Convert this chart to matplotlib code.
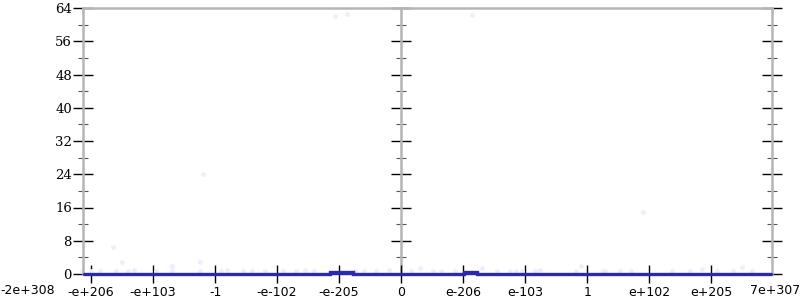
import matplotlib
matplotlib.use("Agg")
import matplotlib.pyplot as plt

# x is measured in "tick steps": one step per label, 0 in the middle
x_min, x_max = -5.13, 5.98
tick_pos = [-5, -4, -3, -2, -1, 0, 1, 2, 3, 4, 5]
tick_labels = ["-e+206", "-e+103", "-1", "-e-102", "-e-205", "0",
               "e-206", "e-103", "1", "e+102", "e+205"]
edge_labels = ["-2e+308", "7e+307"]

# histogram outline (step edges and counts)
line_x = [-5.13, -1.15, -1.15, -0.77, -0.77, 1.02, 1.02, 1.23, 1.23, 5.98]
line_y = [0.0, 0.0, 0.55, 0.55, 0.0, 0.0, 0.55, 0.55, 0.0, 0.0]

# faint sample points
dot_x = [-5.15, -5.0, -4.5, -4.85, -4.6, -4.4, -4.3, -3.95, -3.7, -3.7, -3.25,
         -3.25, -2.9, -2.8, -2.55, -2.4, -2.2, -1.9, -1.7, -1.55, -1.4, -0.75,
         -0.6, -0.4, -0.2, 0.16, 0.3, 0.52, 0.65, 0.87, 1.3, 1.55, 1.76, 1.85,
         1.95, 2.16, 2.24, 2.82, 2.9, 3.26, 3.29, 3.53, 3.7, 4.36, 4.65, 4.85,
         5.1, 5.35, 5.5, 5.65, -1.07, -0.87, 1.15, -4.65, -3.2, 3.9]
dot_y = [0.8, 0.8, 2.9, 0.8, 0.8, 0.8, 1.0, 0.8, 1.9, 0.8, 2.9,
         0.8, 0.8, 0.9, 0.8, 0.8, 0.8, 0.8, 0.8, 1.0, 0.8, 0.8,
         0.8, 0.8, 1.0, 0.8, 1.5, 0.8, 0.8, 0.8, 1.5, 0.8, 0.8, 0.8,
         0.8, 0.8, 0.9, 0.8, 2.0, 0.8, 0.8, 0.8, 0.8, 0.8, 0.8, 1.2,
         0.8, 0.8, 1.8, 0.8, 62.0, 62.5, 62.3, 6.5, 24.0, 15.0]

y_ticks = [0, 8, 16, 24, 32, 40, 48, 56, 64]
y_minor = [4, 12, 20, 28, 36, 44, 52, 60]

spine_grey = "#b5b5b5"

fig = plt.figure(figsize=(8, 3), dpi=100)
ax = fig.add_axes([83 / 800, 1 - 274 / 300, (772 - 83) / 800, (274 - 8) / 300])

ax.scatter(dot_x, dot_y, s=12, color="#eceefe", linewidths=0, zorder=2, clip_on=False)
ax.plot(line_x, line_y, color="#2a2ab0", lw=2.4, zorder=3, clip_on=False,
        solid_capstyle="butt", solid_joinstyle="miter")

ax.set_xlim(x_min, x_max)
ax.set_ylim(0, 64)

for side in ["left", "right", "top"]:
    ax.spines[side].set_color(spine_grey)
    ax.spines[side].set_linewidth(1.8)
ax.spines["bottom"].set_color("#2a2ab0")
ax.spines["bottom"].set_linewidth(1.0)

ax.set_xticks(tick_pos)
ax.set_xticklabels(tick_labels, fontsize=9, family="DejaVu Sans")
ax.set_yticks(y_ticks)
ax.set_yticklabels([str(v) for v in y_ticks], fontsize=9.5, family="DejaVu Serif")
ax.set_yticks(y_minor, minor=True)
ax.tick_params(axis="x", direction="inout", length=13, width=1, color="black", pad=2)
ax.tick_params(axis="y", which="major", direction="inout", length=14, width=1,
               color="black", right=True, pad=1)
ax.tick_params(axis="y", which="minor", direction="inout", length=7, width=0.8,
               color="#555555", right=True)

# middle vertical axis at zero
mid = ax.secondary_yaxis((0 - x_min) / (x_max - x_min))
mid.spines["left"].set_color(spine_grey)
mid.spines["left"].set_linewidth(1.8)
mid.set_yticks(y_ticks)
mid.set_yticks(y_minor, minor=True)
mid.set_yticklabels([])
mid.tick_params(which="major", direction="inout", length=14, width=1, color="black")
mid.tick_params(which="minor", direction="inout", length=7, width=0.8, color="#555555")

fig.text(0.0, 1 - 290 / 300, edge_labels[0], ha="left", va="center", fontsize=9)
fig.text(1.0, 1 - 290 / 300, edge_labels[1], ha="right", va="center", fontsize=9)

fig.savefig("out.png", dpi=100)
